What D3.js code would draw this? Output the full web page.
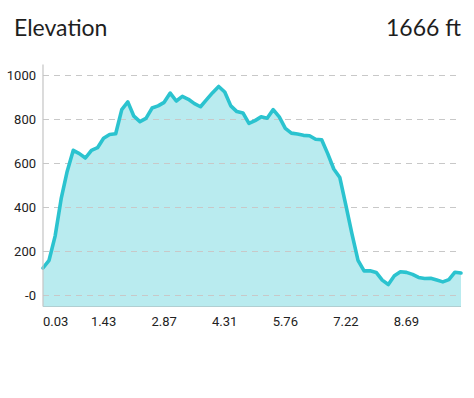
<!DOCTYPE html>
<html>
<head>
<meta charset="utf-8">
<script src="https://cdn.jsdelivr.net/npm/d3@7"></script>
<style>
  body { margin: 0; background: #fff; }
  svg { display: block; }
</style>
</head>
<body>
<svg id="chart"></svg>
<script>
// Elevation (ft) sampled evenly along the track
const elevation = [
  125, 160, 270, 440, 565, 660, 645, 625, 660, 672,
  715, 732, 735, 845, 880, 815, 790, 805, 852, 862,
  878, 920, 884, 905, 892, 872, 858, 890, 922, 950,
  925, 862, 836, 830, 782, 795, 812, 806, 845, 812,
  760, 738, 734, 728, 726, 710, 708, 645, 575, 536,
  410, 280, 160, 112, 112, 105, 70, 50, 90, 108,
  105, 96, 82, 77, 78, 70, 62, 72, 106, 102
];

// distance labels shown every 10th sample
const xTickLabels = ["0.03", "1.43", "2.87", "4.31", "5.76", "7.22", "8.69"];
const yTickValues = [0, 200, 400, 600, 800, 1000];
const yTickLabels = ["-0", "200", "400", "600", "800", "1000"];

const title = "Elevation";
const gainLabel = "1666 ft";

const width = 474;
const height = 398;
const plot = { left: 43, right: 461, top: 64.5, bottom: 306.5 };

const svg = d3.select("#chart")
  .attr("width", width)
  .attr("height", height);

// Header
svg.append("text")
  .attr("x", 14)
  .attr("y", 36)
  .attr("font-family", "Lato, 'Open Sans', sans-serif")
  .attr("font-weight", 400)
  .attr("font-size", 23)
  .attr("fill", "#1e1e1e")
  .text(title);

svg.append("text")
  .attr("x", 461)
  .attr("y", 36)
  .attr("text-anchor", "end")
  .attr("font-family", "Lato, 'Open Sans', sans-serif")
  .attr("font-weight", 400)
  .attr("font-size", 23)
  .attr("fill", "#1e1e1e")
  .text(gainLabel);

// Scales
const x = d3.scaleLinear()
  .domain([0, elevation.length - 1])
  .range([plot.left, plot.right]);

const y = d3.scaleLinear()
  .domain([-50, 1050])
  .range([plot.bottom, plot.top]);

// Area + line
const area = d3.area()
  .x((d, i) => x(i))
  .y0(plot.bottom)
  .y1(d => y(d));

const line = d3.line()
  .x((d, i) => x(i))
  .y(d => y(d));

svg.append("path")
  .datum(elevation)
  .attr("d", area)
  .attr("fill", "#b9ebef");

// Grid lines
svg.append("g")
  .selectAll("line")
  .data(yTickValues)
  .join("line")
  .attr("x1", plot.left)
  .attr("x2", plot.right)
  .attr("y1", d => y(d))
  .attr("y2", d => y(d))
  .attr("stroke", "#c8c8c8")
  .attr("stroke-width", 1)
  .attr("stroke-dasharray", "6,5");

svg.append("path")
  .datum(elevation)
  .attr("d", line)
  .attr("fill", "none")
  .attr("stroke", "#2bc3cf")
  .attr("stroke-width", 3.6)
  .attr("stroke-linejoin", "round")
  .attr("stroke-linecap", "round");

// Axis lines
svg.append("line")
  .attr("x1", plot.left)
  .attr("x2", plot.left)
  .attr("y1", plot.top)
  .attr("y2", plot.bottom)
  .attr("stroke", "#c4c4c4")
  .attr("stroke-width", 1.2);

svg.append("line")
  .attr("x1", plot.left)
  .attr("x2", plot.right)
  .attr("y1", plot.bottom)
  .attr("y2", plot.bottom)
  .attr("stroke", "#b0cfd2")
  .attr("stroke-width", 1.2);

// Y labels
svg.append("g")
  .selectAll("text")
  .data(yTickValues)
  .join("text")
  .attr("x", 36)
  .attr("y", d => y(d))
  .attr("dy", "0.35em")
  .attr("text-anchor", "end")
  .attr("font-family", "Roboto, sans-serif")
  .attr("font-size", 13)
  .attr("fill", "#222")
  .text((d, i) => yTickLabels[i]);

// X labels
svg.append("g")
  .selectAll("text")
  .data(xTickLabels)
  .join("text")
  .attr("x", (d, i) => x(i * 10))
  .attr("y", 326)
  .attr("text-anchor", (d, i) => i === 0 ? "start" : "middle")
  .attr("font-family", "Roboto, sans-serif")
  .attr("font-size", 13)
  .attr("fill", "#222")
  .text(d => d);
</script>
</body>
</html>
